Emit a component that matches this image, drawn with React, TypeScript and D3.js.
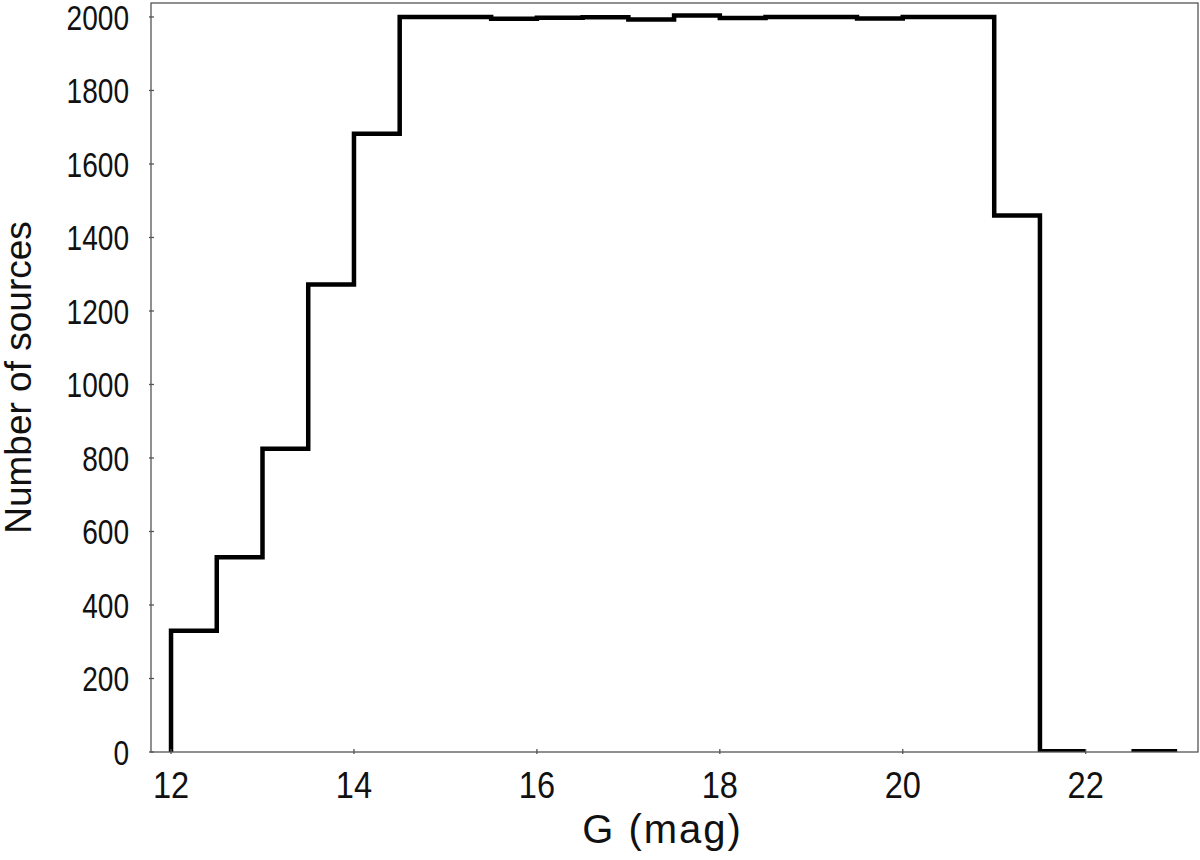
import { useEffect, useRef } from "react";
import * as d3 from "d3";

// bins of 0.5 mag, left edges
const binStarts = [
  12, 12.5, 13, 13.5, 14, 14.5, 15, 15.5, 16, 16.5, 17, 17.5, 18, 18.5, 19,
  19.5, 20, 20.5, 21, 21.5, 22, 22.5,
];
const binWidth = 0.5;
const counts = [
  330, 530, 825, 1272, 1682, 2000, 2000, 1995, 1998, 1999, 1993, 2004, 1997,
  2000, 2000, 1996, 2000, 2000, 1460, 2, 0, 2,
];
const xTicks = [12, 14, 16, 18, 20, 22];
const yTicks = [0, 200, 400, 600, 800, 1000, 1200, 1400, 1600, 1800, 2000];

export default function App() {
  const ref = useRef<SVGSVGElement>(null);

  useEffect(() => {
    const width = 1200;
    const height = 860;
    const margin = { top: 3, right: 2, bottom: 108, left: 151 };
    const font = "'Liberation Sans', Arial, sans-serif";

    const svg = d3.select(ref.current);
    svg.selectAll("*").remove();

    const x = d3
      .scaleLinear()
      .domain([11.781, 23.228])
      .range([margin.left, width - margin.right]);
    const y = d3
      .scaleLinear()
      .domain([0, 2038])
      .range([height - margin.bottom, margin.top]);

    const x0 = margin.left;
    const x1 = width - margin.right;
    const yBottom = height - margin.bottom;
    const yTop = margin.top;

    svg
      .append("clipPath")
      .attr("id", "plotclip")
      .append("rect")
      .attr("x", x0)
      .attr("y", yTop)
      .attr("width", x1 - x0)
      .attr("height", yBottom - yTop);

    // points for the step outline, zero bins break the line
    type Pt = { x: number; v: number; ok: boolean };
    const pts: Pt[] = [{ x: binStarts[0], v: 0, ok: true }];
    binStarts.forEach((b, i) => {
      const ok = counts[i] > 0;
      pts.push({ x: b, v: counts[i], ok });
      pts.push({ x: b + binWidth, v: counts[i], ok });
    });

    const line = d3
      .line<Pt>()
      .defined((d) => d.ok)
      .x((d) => x(d.x))
      .y((d) => y(d.v));

    svg
      .append("path")
      .attr("d", line(pts))
      .attr("fill", "none")
      .attr("stroke", "#000")
      .attr("stroke-width", 4.5)
      .attr("stroke-linejoin", "miter")
      .attr("clip-path", "url(#plotclip)");

    // frame
    svg
      .append("rect")
      .attr("x", x0)
      .attr("y", yTop)
      .attr("width", x1 - x0)
      .attr("height", yBottom - yTop)
      .attr("fill", "none")
      .attr("stroke", "#555")
      .attr("stroke-width", 1.3);

    // x ticks
    xTicks.forEach((t) => {
      svg
        .append("line")
        .attr("x1", x(t))
        .attr("x2", x(t))
        .attr("y1", yBottom - 3)
        .attr("y2", yBottom + 2)
        .attr("stroke", "#555")
        .attr("stroke-width", 1.3);
      svg
        .append("text")
        .attr("transform", `translate(${x(t)},${yBottom + 46}) scale(0.88,1)`)
        .attr("text-anchor", "middle")
        .attr("font-family", font)
        .attr("font-size", 37)
        .attr("fill", "#111")
        .text(t);
    });

    // y ticks
    yTicks.forEach((t) => {
      svg
        .append("line")
        .attr("x1", x0 - 2)
        .attr("x2", x0 + 3)
        .attr("y1", y(t))
        .attr("y2", y(t))
        .attr("stroke", "#555")
        .attr("stroke-width", 1.3);
      svg
        .append("text")
        .attr("transform", `translate(${x0 - 22},${y(t)}) scale(0.78,1)`)
        .attr("dy", "0.36em")
        .attr("text-anchor", "end")
        .attr("font-family", font)
        .attr("font-size", 36)
        .attr("fill", "#111")
        .text(t);
    });

    // axis titles
    svg
      .append("text")
      .attr("x", (x0 + x1) / 2 - 12)
      .attr("y", 843)
      .attr("text-anchor", "middle")
      .attr("font-family", font)
      .attr("font-size", 40)
      .attr("letter-spacing", 2)
      .attr("fill", "#111")
      .text("G (mag)");

    svg
      .append("text")
      .attr("transform", `translate(31,${(yTop + yBottom) / 2}) rotate(-90)`)
      .attr("text-anchor", "middle")
      .attr("font-family", font)
      .attr("font-size", 37)
      .attr("fill", "#111")
      .text("Number of sources");
  }, []);

  return (
    <div style={{ position: "absolute", left: 0, top: 0 }}>
      <svg ref={ref} width={1200} height={860} style={{ display: "block" }} />
    </div>
  );
}
